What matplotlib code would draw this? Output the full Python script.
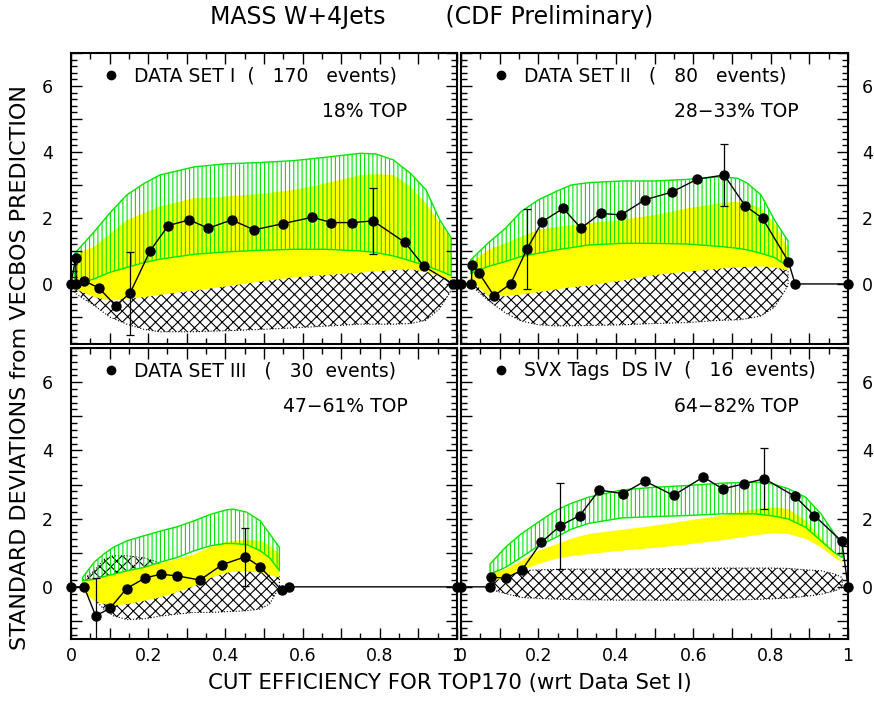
import matplotlib
matplotlib.use('Agg')
import matplotlib.pyplot as plt
from matplotlib.ticker import MultipleLocator, FuncFormatter
from matplotlib.lines import Line2D

plt.rcParams['hatch.linewidth'] = 0.8

GREEN = '#00e600'

# ---- panel texts
labels = ['DATA SET I  (   170   events)', 'DATA SET II   (   80   events)',
          'DATA SET III   (   30  events)', 'SVX Tags  DS IV  (   16  events)']
top_frac = ['18% TOP', '28\u221233% TOP', '47\u221261% TOP', '64\u221282% TOP']

# ---- DATA SET I
bx1 = [0.01, 0.06, 0.10, 0.145, 0.19, 0.23, 0.32, 0.40, 0.49, 0.58, 0.66, 0.75, 0.79, 0.835, 0.88, 0.92, 0.955, 0.985]
grn_hi1 = [0.93, 1.58, 2.14, 2.70, 3.05, 3.30, 3.55, 3.64, 3.68, 3.74, 3.84, 3.96, 3.94, 3.76, 3.35, 2.85, 1.95, 1.40]
grn_lo1 = [0.0, 0.15, 0.35, 0.50, 0.65, 0.75, 0.90, 0.97, 1.02, 1.05, 1.05, 1.00, 0.95, 0.85, 0.70, 0.55, 0.40, 0.25]
yel_hi1 = [0.90, 1.13, 1.50, 1.94, 2.15, 2.35, 2.60, 2.65, 2.73, 2.85, 3.05, 3.30, 3.33, 3.30, 2.95, 2.44, 1.85, 1.35]
yel_lo1 = [-0.15, -0.40, -0.50, -0.45, -0.40, -0.33, -0.20, -0.08, 0.07, 0.20, 0.27, 0.34, 0.38, 0.42, 0.44, 0.37, 0.25, 0.10]
hat_hi1 = [-0.05, -0.30, -0.40, -0.35, -0.30, -0.23, -0.10, 0.02, 0.17, 0.30, 0.37, 0.44, 0.48, 0.52, 0.54, 0.47, 0.35, 0.20]
hat_lo1 = [-0.28, -0.65, -1.00, -1.22, -1.38, -1.45, -1.45, -1.42, -1.38, -1.33, -1.28, -1.22, -1.22, -1.22, -1.20, -1.10, -0.75, -0.20]
px1 = [0.0, 0.012, 0.014, 0.034, 0.073, 0.116, 0.153, 0.205, 0.252, 0.306, 0.356, 0.416, 0.475, 0.55,
       0.625, 0.675, 0.729, 0.783, 0.865, 0.915, 0.99, 1.0]
py1 = [0.0, 0.78, 0.0, 0.10, -0.13, -0.66, -0.28, 1.0, 1.77, 1.94, 1.69, 1.94, 1.64, 1.83,
       2.02, 1.86, 1.86, 1.91, 1.26, 0.53, 0.0, 0.0]
ex1 = [0.153, 0.783]
ey1 = [-0.28, 1.91]
ee1 = [1.26, 1.0]

# ---- DATA SET II
bx2 = [0.025, 0.07, 0.115, 0.155, 0.2, 0.245, 0.285, 0.33, 0.415, 0.5, 0.585, 0.675, 0.715, 0.74, 0.775, 0.81, 0.845]
grn_hi2 = [0.73, 1.24, 1.69, 2.19, 2.55, 2.80, 3.00, 3.07, 3.12, 3.12, 3.17, 3.25, 3.20, 3.05, 2.70, 1.94, 1.30]
grn_lo2 = [0.32, 0.53, 0.68, 0.83, 0.93, 1.03, 1.10, 1.18, 1.23, 1.23, 1.21, 1.13, 1.08, 1.03, 0.93, 0.80, 0.53]
yel_hi2 = [0.63, 1.03, 1.23, 1.43, 1.64, 1.72, 1.78, 1.84, 1.94, 2.09, 2.29, 2.46, 2.49, 2.45, 2.30, 1.84, 1.08]
yel_lo2 = [0.13, -0.37, -0.37, -0.32, -0.25, -0.17, -0.10, -0.05, 0.10, 0.27, 0.37, 0.47, 0.50, 0.52, 0.53, 0.50, 0.42]
hat_hi2 = [0.10, -0.27, -0.27, -0.22, -0.15, -0.07, 0.0, 0.05, 0.20, 0.37, 0.47, 0.57, 0.60, 0.60, 0.60, 0.55, 0.40]
hat_lo2 = [-0.03, -0.50, -0.88, -1.12, -1.24, -1.27, -1.27, -1.26, -1.24, -1.20, -1.17, -1.10, -1.09, -1.05, -0.97, -0.70, -0.05]
px2 = [0.0, 0.027, 0.028, 0.047, 0.085, 0.128, 0.17, 0.21, 0.264, 0.31, 0.361, 0.413, 0.475, 0.544,
       0.611, 0.68, 0.734, 0.779, 0.846, 0.863, 1.0]
py2 = [0.0, 0.0, 0.58, 0.32, -0.36, 0.0, 1.05, 1.89, 2.29, 1.69, 2.14, 2.09, 2.55, 2.78,
       3.18, 3.30, 2.37, 1.99, 0.68, 0.0, 0.0]
ex2 = [0.17, 0.68]
ey2 = [1.05, 3.30]
ee2 = [1.21, 0.93]

# ---- DATA SET III
bx3 = [0.03, 0.06, 0.085, 0.11, 0.145, 0.19, 0.23, 0.275, 0.32, 0.36, 0.4, 0.42, 0.455, 0.49, 0.515, 0.54]
grn_hi3 = [0.27, 0.72, 0.96, 1.16, 1.35, 1.50, 1.63, 1.76, 1.94, 2.12, 2.25, 2.28, 2.19, 1.94, 1.55, 1.16]
grn_lo3 = [0.18, 0.22, 0.30, 0.37, 0.47, 0.57, 0.72, 0.86, 1.06, 1.20, 1.27, 1.27, 1.24, 1.06, 0.85, 0.47]
yel_hi3 = [0.18, 0.25, 0.30, 0.37, 0.49, 0.57, 0.69, 0.82, 0.96, 1.16, 1.31, 1.35, 1.37, 1.35, 1.22, 0.96]
yel_lo3 = [-0.12, -0.41, -0.50, -0.55, -0.51, -0.41, -0.31, -0.16, 0.03, 0.25, 0.40, 0.44, 0.45, 0.42, 0.35, 0.27]
hat_hi3 = [0.20, 0.47, 0.80, 0.91, 0.91, 0.85, 0.70, 0.50, 0.40, 0.45, 0.50, 0.52, 0.52, 0.50, 0.40, 0.30]
hat_lo3 = [-0.10, -0.35, -0.65, -0.85, -0.96, -0.94, -0.86, -0.80, -0.75, -0.75, -0.73, -0.72, -0.70, -0.65, -0.50, 0.0]
px3 = [0.0, 0.034, 0.064, 0.101, 0.144, 0.192, 0.232, 0.276, 0.334, 0.392, 0.451, 0.49, 0.546, 0.565, 1.0]
py3 = [0.0, 0.0, -0.85, -0.63, -0.05, 0.26, 0.37, 0.32, 0.20, 0.65, 0.88, 0.59, -0.10, 0.0, 0.0]
ex3 = [0.064, 0.451]
ey3 = [-0.85, 0.88]
ee3 = [1.12, 0.85]

# ---- SVX Tags DS IV
bx4 = [0.075, 0.115, 0.155, 0.2, 0.245, 0.285, 0.33, 0.415, 0.5, 0.585, 0.675, 0.76, 0.805, 0.845, 0.89, 0.93, 0.965, 0.985]
grn_hi4 = [0.67, 1.16, 1.55, 1.90, 2.24, 2.45, 2.63, 2.84, 2.92, 2.97, 3.04, 3.07, 3.02, 2.88, 2.63, 2.14, 1.55, 1.16]
grn_lo4 = [0.37, 0.57, 0.86, 1.20, 1.45, 1.69, 1.86, 2.02, 2.06, 2.09, 2.14, 2.14, 2.08, 1.99, 1.75, 1.35, 1.00, 0.86]
yel_hi4 = [0.37, 0.52, 0.76, 1.06, 1.24, 1.41, 1.55, 1.67, 1.79, 1.94, 2.09, 2.28, 2.33, 2.28, 1.94, 1.45, 1.00, 0.76]
yel_lo4 = [0.18, 0.25, 0.47, 0.67, 0.82, 0.90, 0.96, 1.06, 1.14, 1.24, 1.37, 1.51, 1.57, 1.55, 1.41, 1.16, 0.85, 0.72]
hat_hi4 = [0.18, 0.35, 0.47, 0.50, 0.51, 0.52, 0.52, 0.52, 0.53, 0.54, 0.55, 0.55, 0.55, 0.54, 0.50, 0.47, 0.38, 0.27]
hat_lo4 = [-0.07, -0.20, -0.31, -0.34, -0.36, -0.37, -0.38, -0.39, -0.39, -0.39, -0.39, -0.37, -0.35, -0.33, -0.28, -0.22, -0.12, -0.02]
px4 = [0.0, 0.075, 0.077, 0.115, 0.157, 0.207, 0.256, 0.307, 0.357, 0.418, 0.475, 0.549,
       0.626, 0.676, 0.731, 0.784, 0.863, 0.913, 0.984, 1.0]
py4 = [0.0, 0.0, 0.29, 0.25, 0.49, 1.30, 1.79, 2.09, 2.84, 2.73, 3.10, 2.68,
       3.22, 2.87, 3.02, 3.17, 2.65, 2.09, 1.33, 0.0]
ex4 = [0.256, 0.784]
ey4 = [1.79, 3.17]
ee4 = [1.26, 0.89]

panels = [
    (bx1, hat_lo1, hat_hi1, yel_lo1, yel_hi1, grn_lo1, grn_hi1, px1, py1, ex1, ey1, ee1),
    (bx2, hat_lo2, hat_hi2, yel_lo2, yel_hi2, grn_lo2, grn_hi2, px2, py2, ex2, ey2, ee2),
    (bx3, hat_lo3, hat_hi3, yel_lo3, yel_hi3, grn_lo3, grn_hi3, px3, py3, ex3, ey3, ee3),
    (bx4, hat_lo4, hat_hi4, yel_lo4, yel_hi4, grn_lo4, grn_hi4, px4, py4, ex4, ey4, ee4),
]

fig = plt.figure(figsize=(8.74, 7.02), dpi=100)
boxes = [[0.0812, 0.5100, 0.4416, 0.4145], [0.5275, 0.5100, 0.4428, 0.4145],
         [0.0812, 0.0897, 0.4416, 0.4145], [0.5275, 0.0897, 0.4428, 0.4145]]


def xfmt(v, pos):
    k = int(round(v * 10))
    if k % 2:
        return ''
    return '%g' % (k / 10.0)


def yfmt(v, pos):
    k = int(round(v))
    return '' if k % 2 else str(k)


for i, (box, p) in enumerate(zip(boxes, panels)):
    bx, hlo, hhi, ylo, yhi, glo, ghi, px, py, ex, ey, ee = p
    ax = fig.add_axes(box)
    ax.fill_between(bx, hlo, hhi, facecolor='white', edgecolor='black',
                    hatch='xxx', linestyle=':', linewidth=0.8)
    ax.fill_between(bx, ylo, yhi, facecolor='#ffff00', edgecolor='none')
    ax.fill_between(bx, glo, ghi, facecolor='none', edgecolor=GREEN,
                    hatch='||||', linewidth=1.0)
    ax.plot(px, py, 'k-', lw=1.0, zorder=4)
    ax.plot(px, py, 'ko', ms=6.5, zorder=5, clip_on=False)
    ax.errorbar(ex, ey, yerr=ee, fmt='none', ecolor='k', elinewidth=0.9,
                capsize=3, capthick=0.9, zorder=4)

    ax.set_xlim(0, 1)
    if i < 2:
        ax.set_ylim(-1.82, 7.0)
    else:
        ax.set_ylim(-1.53, 7.0)

    ax.xaxis.set_major_locator(MultipleLocator(0.1))
    ax.xaxis.set_minor_locator(MultipleLocator(0.05))
    ax.yaxis.set_major_locator(MultipleLocator(1))
    ax.yaxis.set_minor_locator(MultipleLocator(0.2))
    ax.xaxis.set_major_formatter(FuncFormatter(xfmt))
    ax.yaxis.set_major_formatter(FuncFormatter(yfmt))
    ax.tick_params(which='both', direction='in', top=True, right=True,
                   width=1.0, labelsize=12.5)
    ax.tick_params(which='major', length=8)
    ax.tick_params(which='minor', length=4)
    ax.tick_params(axis='x', pad=6)
    if i < 2:
        ax.tick_params(labelbottom=False)
    if i % 2 == 1:
        ax.tick_params(axis='y', labelleft=False, labelright=True, pad=10)
    else:
        ax.tick_params(axis='y', pad=13)
    for s in ax.spines.values():
        s.set_linewidth(1.5)

    h = Line2D([], [], marker='o', ls='none', color='k', ms=6)
    ax.legend([h], [labels[i]], loc='upper left', bbox_to_anchor=(0.085, 0.955),
              frameon=False, fontsize=13.5, handlelength=0.8, handletextpad=0.8,
              borderpad=0, borderaxespad=0)
    ax.text(0.872, 0.80, top_frac[i], transform=ax.transAxes, ha='right',
            va='center', fontsize=13.5)

fig.text(0.494, 0.976, 'MASS W+4Jets        (CDF Preliminary)', ha='center',
         va='center', fontsize=17)
fig.text(0.515, 0.027, 'CUT EFFICIENCY FOR TOP170 (wrt Data Set I)', ha='center',
         va='center', fontsize=15.3)
fig.text(0.023, 0.477, 'STANDARD DEVIATIONS from VECBOS PREDICTION', ha='center',
         va='center', rotation=90, fontsize=16)

fig.savefig('out.png', dpi=100)
